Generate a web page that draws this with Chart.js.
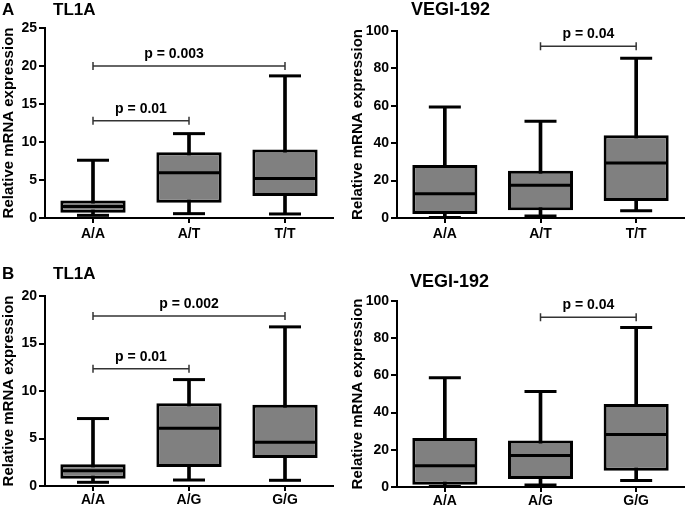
<!DOCTYPE html>
<html><head><meta charset="utf-8">
<script src="https://cdn.jsdelivr.net/npm/chart.js@4.4.1/dist/chart.umd.min.js"></script>
<style>
body{margin:0;background:#fff;}
#wrap{position:relative;width:685px;height:508px;overflow:hidden;background:#fff;}
canvas{position:absolute;}
</style></head><body>
<div id="wrap">
<canvas id="c1" width="342" height="250" style="left:0px;top:0px"></canvas>
<canvas id="c2" width="343" height="250" style="left:342px;top:0px"></canvas>
<canvas id="c3" width="342" height="258" style="left:0px;top:250px"></canvas>
<canvas id="c4" width="343" height="258" style="left:342px;top:250px"></canvas>
</div>
<script>
// ---------- categories ----------
const catsAT = ['A/A', 'A/T', 'T/T'];
const catsAG = ['A/A', 'A/G', 'G/G'];

// ---------- Panel A, TL1A ----------
const aTl1aMin = [0.35, 0.57, 0.53];
const aTl1aQ1  = [0.7, 2.0, 2.9];
const aTl1aMed = [1.5, 5.96, 5.2];
const aTl1aQ3  = [2.3, 8.65, 9.0];
const aTl1aMax = [7.6, 11.1, 18.7];
const aTl1aYTicks = [0, 5, 10, 15, 20, 25];
const aTl1aPText = ['p = 0.01', 'p = 0.003'];
const aTl1aPLevel = [12.8, 20.0];
const aTl1aPFrom = [0, 0];
const aTl1aPTo = [1, 2];

// ---------- Panel A, VEGI-192 ----------
const aVegiMin = [0.3, 1.1, 3.9];
const aVegiQ1  = [2.1, 4.1, 9.1];
const aVegiMed = [13.0, 17.5, 29.4];
const aVegiQ3  = [28.3, 25.3, 44.2];
const aVegiMax = [59.4, 51.7, 85.4];
const aVegiYTicks = [0, 20, 40, 60, 80, 100];
const aVegiPText = ['p = 0.04'];
const aVegiPLevel = [91.8];
const aVegiPFrom = [1];
const aVegiPTo = [2];

// ---------- Panel B, TL1A ----------
const bTl1aMin = [0.39, 0.63, 0.6];
const bTl1aQ1  = [0.77, 2.0, 2.94];
const bTl1aMed = [1.6, 6.07, 4.6];
const bTl1aQ3  = [2.28, 8.7, 8.55];
const bTl1aMax = [7.1, 11.2, 16.75];
const bTl1aYTicks = [0, 5, 10, 15, 20];
const bTl1aPText = ['p = 0.01', 'p = 0.002'];
const bTl1aPLevel = [12.35, 17.9];
const bTl1aPFrom = [0, 0];
const bTl1aPTo = [1, 2];

// ---------- Panel B, VEGI-192 ----------
const bVegiMin = [0.3, 1.1, 3.5];
const bVegiQ1  = [1.2, 4.3, 8.7];
const bVegiMed = [11.4, 16.9, 28.2];
const bVegiQ3  = [26.3, 25.0, 44.6];
const bVegiMax = [58.7, 51.4, 85.7];
const bVegiYTicks = [0, 20, 40, 60, 80, 100];
const bVegiPText = ['p = 0.04'];
const bVegiPLevel = [91.3];
const bVegiPFrom = [1];
const bVegiPTo = [2];

const FONT = "'Liberation Sans', Arial, Helvetica, sans-serif";

function buildChart(id, cfg) {
  const n = cfg.cats.length;
  const datasets = [
    { // whiskers (min..max)
      type: 'bar', data: cfg.cats.map((_, i) => [cfg.min[i], cfg.max[i]]),
      backgroundColor: '#000', borderWidth: 0, barThickness: 3, grouped: false, order: 5
    },
    { // boxes (Q1..Q3)
      type: 'bar', data: cfg.cats.map((_, i) => [cfg.q1[i], cfg.q3[i]]),
      backgroundColor: '#808080', borderColor: '#000', borderWidth: 3, borderSkipped: false,
      barPercentage: 0.68, categoryPercentage: 1, grouped: false, order: 4
    },
    { // medians
      type: 'line', data: cfg.med, showLine: false, pointStyle: 'line', pointRadius: 31,
      pointBorderWidth: 3, pointBorderColor: '#000', borderColor: '#000', order: 1
    },
    { // max caps
      type: 'line', data: cfg.max, showLine: false, pointStyle: 'line', pointRadius: 16,
      pointBorderWidth: 3, pointBorderColor: '#000', borderColor: '#000', order: 1
    },
    { // min caps
      type: 'line', data: cfg.min, showLine: false, pointStyle: 'line', pointRadius: 16,
      pointBorderWidth: 3, pointBorderColor: '#000', borderColor: '#000', order: 1
    }
  ];
  cfg.pLevel.forEach((lv, k) => {
    const d = new Array(n).fill(null);
    d[cfg.pFrom[k]] = lv; d[cfg.pTo[k]] = lv;
    datasets.push({
      type: 'line', data: d, spanGaps: true, borderColor: '#333', borderWidth: 1.5,
      pointStyle: 'line', pointRotation: 90, pointRadius: 4, pointBorderWidth: 1.5,
      pointBorderColor: '#333', pointBackgroundColor: '#333', order: 0
    });
  });

  const textPlugin = {
    id: 'texts',
    afterDraw(chart) {
      const ctx = chart.ctx;
      const xs = chart.scales.x, ys = chart.scales.y;
      ctx.save();
      ctx.fillStyle = '#000';
      ctx.textAlign = 'center';
      ctx.textBaseline = 'alphabetic';
      ctx.font = 'bold 14px ' + FONT;
      cfg.pText.forEach((t, k) => {
        const x = (xs.getPixelForValue(cfg.pFrom[k]) + xs.getPixelForValue(cfg.pTo[k])) / 2 + (cfg.pDx ? cfg.pDx[k] : 0);
        const y = ys.getPixelForValue(cfg.pLevel[k]) - 8;
        ctx.fillText(t, x, y);
      });
      ctx.textAlign = 'left';
      if (cfg.letter) {
        ctx.font = 'bold 17px ' + FONT;
        ctx.fillText(cfg.letter, cfg.letterX, cfg.titleY);
      }
      ctx.font = 'bold ' + cfg.titleSize + 'px ' + FONT;
      ctx.fillText(cfg.title, cfg.titleX, cfg.titleY);
      ctx.restore();
    }
  };

  return new Chart(document.getElementById(id), {
    type: 'bar',
    data: { labels: cfg.cats, datasets },
    options: {
      responsive: false, animation: false, devicePixelRatio: 1, events: [],
      layout: { padding: cfg.pad, autoPadding: false },
      plugins: { legend: { display: false }, tooltip: { enabled: false }, title: { display: false } },
      scales: {
        x: {
          offset: true,
          grid: { display: true, offset: false, drawOnChartArea: false, drawTicks: true, tickLength: 5, color: '#000', lineWidth: 2 },
          border: { display: true, color: '#000', width: 2 },
          ticks: { color: '#000', padding: cfg.xPad, font: { family: FONT, size: 14, weight: 'bold' }, maxRotation: 0 },
          afterFit(s) { s.height = cfg.xHeight; }
        },
        y: {
          min: cfg.yTicks[0], max: cfg.yTicks[cfg.yTicks.length - 1],
          afterBuildTicks(s) { s.ticks = cfg.yTicks.map(v => ({ value: v })); },
          grid: { display: true, drawOnChartArea: false, drawTicks: true, tickLength: 6, color: '#000', lineWidth: 2 },
          border: { display: true, color: '#000', width: 2 },
          ticks: { color: '#000', padding: 2, font: { family: FONT, size: 14, weight: 'bold' } },
          title: { display: true, text: 'Relative mRNA expression', color: '#000', padding: { top: 0, bottom: 0 },
                   font: { family: FONT, size: 15, weight: 'bold' } },
          afterFit(s) { s.width = cfg.yWidth; }
        }
      }
    },
    plugins: [textPlugin]
  });
}

buildChart('c1', {
  cats: catsAT, min: aTl1aMin, q1: aTl1aQ1, med: aTl1aMed, q3: aTl1aQ3, max: aTl1aMax,
  yTicks: aTl1aYTicks, pText: aTl1aPText, pLevel: aTl1aPLevel, pFrom: aTl1aPFrom, pTo: aTl1aPTo,
  pDx: [0, -15],
  pad: { left: 0, top: 28, right: 9, bottom: 0 }, yWidth: 45, xHeight: 32, xPad: 3,
  letter: 'A', letterX: 2, title: 'TL1A', titleX: 53, titleY: 15, titleSize: 17
});
buildChart('c2', {
  cats: catsAT, min: aVegiMin, q1: aVegiQ1, med: aVegiMed, q3: aVegiQ3, max: aVegiMax,
  yTicks: aVegiYTicks, pText: aVegiPText, pLevel: aVegiPLevel, pFrom: aVegiPFrom, pTo: aVegiPTo,
  pad: { left: 7, top: 31, right: 1, bottom: 0 }, yWidth: 48, xHeight: 32, xPad: 3,
  letter: null, title: 'VEGI-192', titleX: 69, titleY: 15, titleSize: 18
});
buildChart('c3', {
  cats: catsAG, min: bTl1aMin, q1: bTl1aQ1, med: bTl1aMed, q3: bTl1aQ3, max: bTl1aMax,
  yTicks: bTl1aYTicks, pText: bTl1aPText, pLevel: bTl1aPLevel, pFrom: bTl1aPFrom, pTo: bTl1aPTo,
  pad: { left: 0, top: 46, right: 9, bottom: 0 }, yWidth: 45, xHeight: 22, xPad: 1,
  letter: 'B', letterX: 2, title: 'TL1A', titleX: 53, titleY: 29, titleSize: 17
});
buildChart('c4', {
  cats: catsAG, min: bVegiMin, q1: bVegiQ1, med: bVegiMed, q3: bVegiQ3, max: bVegiMax,
  yTicks: bVegiYTicks, pText: bVegiPText, pLevel: bVegiPLevel, pFrom: bVegiPFrom, pTo: bVegiPTo,
  pad: { left: 7, top: 51, right: 1, bottom: 0 }, yWidth: 48, xHeight: 21, xPad: 1,
  letter: null, title: 'VEGI-192', titleX: 68, titleY: 37, titleSize: 18
});
</script>
</body></html>
